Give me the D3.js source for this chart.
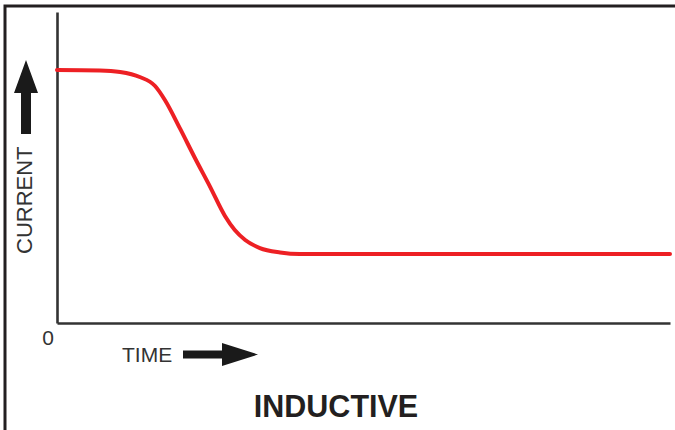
<!DOCTYPE html>
<html>
<head>
<meta charset="utf-8">
<script src="https://cdn.jsdelivr.net/npm/d3@7"></script>
<style>
html,body{margin:0;padding:0;background:#fff;}
svg{display:block;}
</style>
</head>
<body>
<svg id="chart" width="675" height="430"></svg>
<script>
// Data (arbitrary units: time 0-100, current 0-100)
const time    = [0,     7.0,   10.3,  13.5,  16.0,  17.6,  20.1,  22.5,  25.0,  27.4,  29.0,  30.7,  33.1,  36.4,  39.6,  100];
const current = [81.35, 81.2,  80.7,  79.1,  76.2,  71.7,  62.4,  53.05, 43.7,  34.4,  29.9,  26.7,  24.1,  22.7,  22.2,  22.2];
const originLabel = ["0"];
const xTitle = "TIME";
const yTitle = "CURRENT";
const chartTitle = "INDUCTIVE";

const svg = d3.select("#chart");
const x = d3.scaleLinear().domain([0, 100]).range([57, 670]);
const y = d3.scaleLinear().domain([0, 100]).range([323, 12]);

// frame (left and top)
svg.append("path")
  .attr("d", "M5,430 L5,6 L675,6")
  .attr("fill", "none").attr("stroke", "#231f20").attr("stroke-width", 3);

// axes
const xAxis = d3.axisBottom(x).tickValues([]).tickSize(0).tickSizeOuter(0);
const yAxis = d3.axisLeft(y).tickValues([]).tickSize(0).tickSizeOuter(0);
svg.append("g").attr("transform", `translate(0,${y(0)})`).call(xAxis)
  .select(".domain").attr("stroke", "#333").attr("stroke-width", 2.6);
svg.append("g").attr("transform", `translate(${x(0)},0)`).call(yAxis)
  .select(".domain").attr("stroke", "#333").attr("stroke-width", 2.6);

// curve
const pts = time.map((t, i) => [t, current[i]]);
const line = d3.line().x(d => x(d[0])).y(d => y(d[1])).curve(d3.curveMonotoneX);
svg.append("path").datum(pts)
  .attr("d", line)
  .attr("fill", "none").attr("stroke", "#ed2024").attr("stroke-width", 4)
  .attr("stroke-linecap", "round");

const font = "'Liberation Sans', Arial, Helvetica, sans-serif";

// origin label
svg.append("text").text(originLabel[0])
  .attr("x", x(0) - 9).attr("y", 345)
  .attr("text-anchor", "middle")
  .attr("font-family", font).attr("font-size", 21).attr("fill", "#333");

// x title and arrow
svg.append("text").text(xTitle)
  .attr("x", 122).attr("y", 362)
  .attr("font-family", font).attr("font-size", 21).attr("fill", "#333");
svg.append("path")
  .attr("d", "M183,350.5 L222,350.5 L222,343 L258,354.5 L222,366 L222,358.5 L183,358.5 Z")
  .attr("fill", "#1a1a1a");

// y title and arrow
svg.append("text").text(yTitle)
  .attr("transform", "translate(32,254) rotate(-90)")
  .attr("font-family", font).attr("font-size", 22).attr("fill", "#333");
svg.append("path")
  .attr("d", "M21,134 L21,93 L14,93 L26,60 L38,93 L31,93 L31,134 Z")
  .attr("fill", "#1a1a1a");

// chart title
svg.append("text").text(chartTitle)
  .attr("x", 336).attr("y", 417)
  .attr("text-anchor", "middle")
  .attr("font-family", font).attr("font-size", 30.5).attr("font-weight", "bold")
  .attr("fill", "#231f20");
</script>
</body>
</html>
